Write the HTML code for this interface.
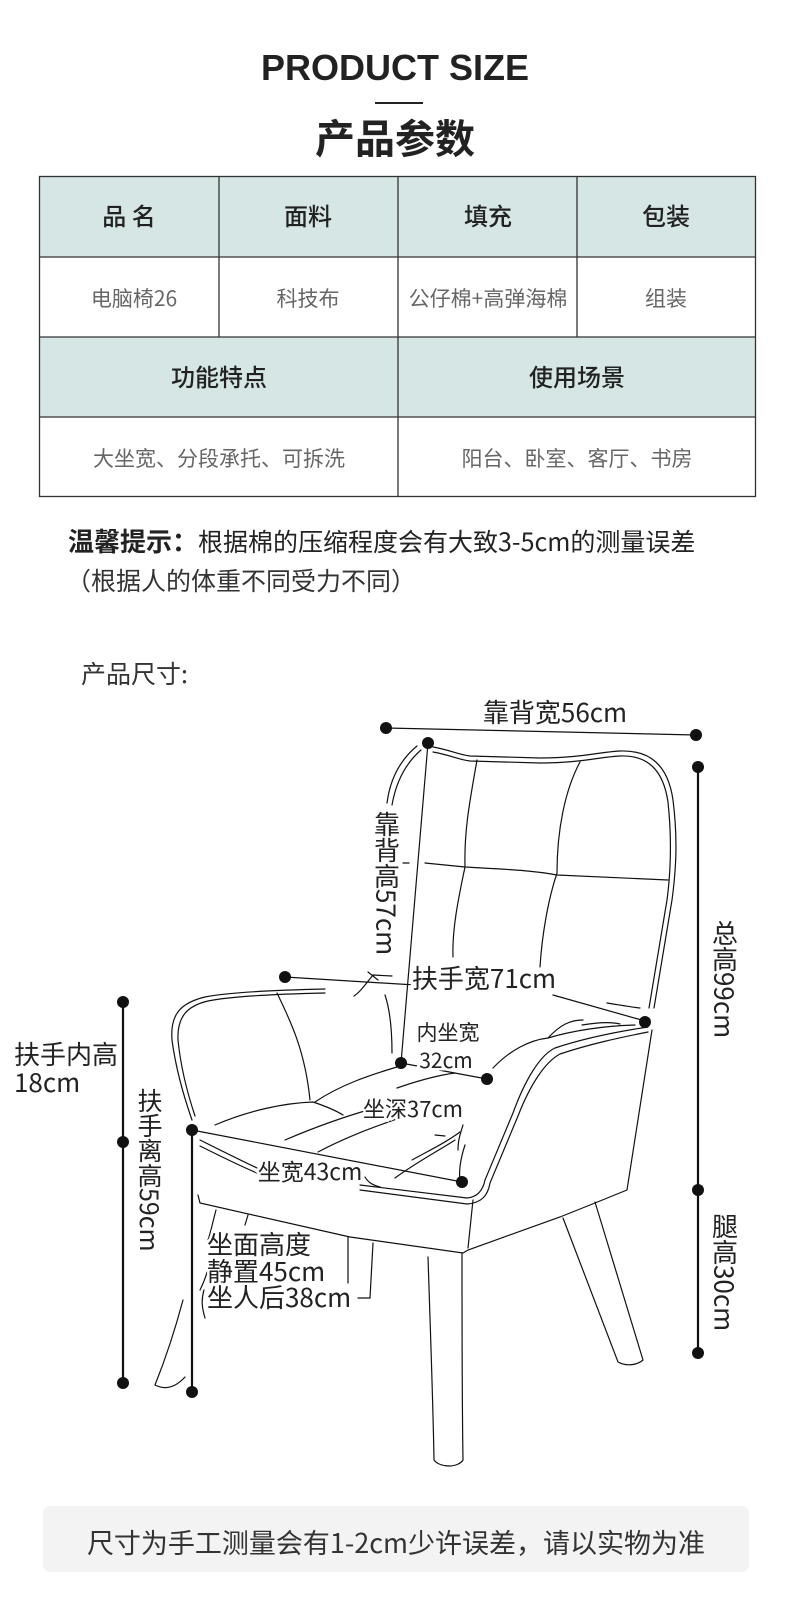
<!DOCTYPE html>
<html><head><meta charset="utf-8"><style>
html,body{margin:0;padding:0;background:#fff;}
body{width:790px;height:1597px;position:relative;overflow:hidden;font-family:"Liberation Sans","Noto Sans CJK SC",sans-serif;}
svg{position:absolute;left:0;top:0;}
</style></head><body>
<svg width="790" height="1597" viewBox="0 0 790 1597" xmlns="http://www.w3.org/2000/svg" font-family="Liberation Sans, Noto Sans CJK SC, sans-serif">
<text x="395" y="80" text-anchor="middle" font-size="36" font-weight="bold" fill="#222">PRODUCT SIZE</text>
<rect x="375" y="102" width="48" height="2" fill="#222"/>
<text x="395" y="153" text-anchor="middle" font-size="40" font-weight="bold" fill="#222" font-family="Noto Sans CJK SC, sans-serif">产品参数</text>
<rect x="39" y="176" width="717" height="81" fill="#d5e6e5"/>
<rect x="39" y="337" width="717" height="80" fill="#d5e6e5"/>
<g stroke="#333" stroke-width="1.3" fill="none">
<rect x="39.5" y="176.5" width="716" height="320"/>
<line x1="39" y1="257" x2="756" y2="257"/>
<line x1="39" y1="337" x2="756" y2="337"/>
<line x1="39" y1="417" x2="756" y2="417"/>
<line x1="219" y1="176" x2="219" y2="337"/>
<line x1="398" y1="176" x2="398" y2="497"/>
<line x1="577" y1="176" x2="577" y2="337"/>
</g>
<g font-size="24" fill="#222" text-anchor="middle" font-family="Noto Sans CJK SC, sans-serif" font-weight="500">
<text x="129" y="225">品 名</text><text x="308" y="225">面料</text><text x="488" y="225">填充</text><text x="666" y="225">包装</text>
<text x="219" y="386">功能特点</text><text x="577" y="386">使用场景</text>
</g>
<g font-size="21" fill="#666" text-anchor="middle" font-family="Noto Sans CJK SC, sans-serif">
<text x="134" y="306">电脑椅26</text><text x="308" y="306">科技布</text><text x="488" y="306">公仔棉+高弹海棉</text><text x="666" y="306">组装</text>
<text x="219" y="466">大坐宽、分段承托、可拆洗</text><text x="577" y="466">阳台、卧室、客厅、书房</text>
</g>
<text x="68" y="551" font-size="26" fill="#222" font-family="Noto Sans CJK SC, sans-serif"><tspan font-weight="bold">温馨提示：</tspan><tspan font-size="25">根据棉的压缩程度会有大致3-5cm的测量误差</tspan></text>
<text x="66" y="590" font-size="25" fill="#333" font-family="Noto Sans CJK SC, sans-serif">（根据人的体重不同受力不同）</text>
<text x="81" y="683" font-size="25" fill="#333" font-family="Noto Sans CJK SC, sans-serif">产品尺寸:</text>

<g stroke="#111" stroke-width="1.2" fill="none" stroke-linecap="round">
<path d="M433 747 C450 750 460 755 470 756 L540 758 C580 758 600 752 620 751 C650 750 668 765 673 800 C678 840 676 870 672 900 L654 1008"/>
<path d="M433 752 C450 755 460 760 470 761 L540 763 C580 763 600 757 620 756 C646 755 663 768 668 802 C672 840 671 870 667 900 L649 1008"/>
<path d="M417 746 C400 760 390 780 387 803"/>
<path d="M421 750 C406 763 396 782 392 805"/>
<path d="M477 760 C470 800 464 830 465 867 C458 900 452 930 453 957"/>
<path d="M580 762 C565 790 557 830 557 873 C548 900 542 935 540 967"/>
<path d="M425 863 L465 867 C500 869 530 870 557 875 L668 880"/>
<line x1="403" y1="863" x2="409" y2="863"/>
<path d="M325 989 C280 990 230 992 205 997 C180 1003 170 1015 172 1040 C176 1070 185 1100 192 1120"/>
<path d="M325 993 C280 994 232 996 208 1001 C186 1006 177 1018 178 1040 C181 1070 189 1098 195 1116"/>
<path d="M277 993 C290 1020 305 1050 310 1100"/>
<path d="M385 995 C390 1010 392 1030 392 1053"/>
<path d="M373 975 C365 985 360 992 354 996"/>
<path d="M368 972 L378 980 M373 975 L392 976"/>
<path d="M315 1102 C340 1085 370 1075 397 1067"/>
<path d="M215 1125 C250 1110 285 1103 313 1102 C325 1106 335 1110 343 1115"/>
<path d="M285 1140 C320 1125 350 1115 375 1108"/>
<path d="M318 1152 C350 1135 380 1125 405 1116"/>
<path d="M397 1088 C420 1080 440 1075 455 1073"/>
<path d="M395 1178 C420 1160 440 1150 455 1140 M435 1135 L445 1136"/>
<path d="M412 1160 C430 1150 445 1143 460 1132"/>
<path d="M465 1145 C460 1160 458 1175 461 1185 M463 1125 C460 1135 458 1140 458 1150"/>
<path d="M200 1140 C220 1150 240 1160 257 1168 M360 1185 L467 1198 C478 1197 483 1190 485 1180 L513 1113 C525 1080 540 1055 555 1048 C585 1038 615 1032 648 1027"/>
<path d="M200 1146 C220 1156 240 1166 257 1173 M360 1190 L467 1204 C482 1203 488 1195 490 1183 L518 1116 C530 1085 545 1062 560 1054 C590 1044 618 1038 648 1032"/>
<path d="M365 1177 C368 1182 372 1185 380 1187"/>
<path d="M493 1068 C510 1050 530 1040 548 1038 C575 1030 605 1026 635 1025"/>
<path d="M548 1038 C560 1025 570 1020 583 1020 M582 1025 C600 1022 612 1022 620 1024"/>
<path d="M607 1003 C620 1005 630 1007 640 1008"/>
<path d="M652 1030 L627 1190 L595 1203 L560 1217 L468 1250 L463 1253 L350 1237 L200 1203 L198 1195"/>
<path d="M473 1200 L468 1248"/>
<path d="M428 1257 C430 1320 433 1400 434 1460 C440 1468 458 1468 463 1460 C462 1400 462 1320 462 1253"/>
<path d="M595 1202 L643 1360 C636 1366 625 1366 618 1362 L563 1218"/>
<path d="M348 1237 L348 1283 M373 1243 L370 1298 L358 1298"/>
<path d="M183 1300 C175 1330 165 1360 155 1385 C165 1390 175 1388 185 1377"/>
<path d="M216 1210 C212 1225 210 1235 208 1240 M248 1215 L245 1225 M200 1290 C205 1280 208 1270 210 1262 M205 1318 C202 1308 201 1300 204 1290"/>
<line x1="386" y1="728" x2="696" y2="735"/>
<line x1="428" y1="743" x2="401" y2="1063"/>
<line x1="285" y1="977" x2="415" y2="985"/>
<line x1="553" y1="995" x2="645" y2="1021"/>
<line x1="401" y1="1063" x2="487" y2="1079"/>
<line x1="192" y1="1130" x2="462" y2="1182"/>
</g>
<g stroke="#111" stroke-width="2.2">
<line x1="698" y1="767" x2="698" y2="1353"/>
<line x1="123" y1="1002" x2="123" y2="1383"/>
<line x1="192" y1="1128" x2="192" y2="1392"/>
</g>
<g fill="#111">
<circle cx="386" cy="728" r="6"/><circle cx="696" cy="735" r="6"/>
<circle cx="428" cy="743" r="6"/><circle cx="698" cy="767" r="6"/>
<circle cx="698" cy="1190" r="6"/><circle cx="698" cy="1353" r="6"/>
<circle cx="285" cy="977" r="6"/><circle cx="645" cy="1022" r="6"/>
<circle cx="401" cy="1063" r="6"/><circle cx="487" cy="1079" r="6"/>
<circle cx="192" cy="1130" r="6"/><circle cx="462" cy="1182" r="6"/>
<circle cx="123" cy="1002" r="6"/><circle cx="123" cy="1142" r="6"/><circle cx="123" cy="1383" r="6"/>
<circle cx="192" cy="1392" r="6"/>
</g>
<g fill="#222" font-family="Noto Sans CJK SC, sans-serif">
<text x="555" y="722" text-anchor="middle" font-size="26">靠背宽56cm</text>
<text x="484" y="988" text-anchor="middle" font-size="26" stroke="#fff" stroke-width="6" paint-order="stroke">扶手宽71cm</text>
<text x="448" y="1040" text-anchor="middle" font-size="21" stroke="#fff" stroke-width="5" paint-order="stroke">内坐宽</text>
<text x="446" y="1068" text-anchor="middle" font-size="21" stroke="#fff" stroke-width="5" paint-order="stroke">32cm</text>
<text x="413" y="1117" text-anchor="middle" font-size="22" stroke="#fff" stroke-width="5" paint-order="stroke">坐深37cm</text>
<text x="310" y="1180" text-anchor="middle" font-size="23" stroke="#fff" stroke-width="5" paint-order="stroke">坐宽43cm</text>
<text x="207" y="1254" font-size="26" stroke="#fff" stroke-width="5" paint-order="stroke">坐面高度</text>
<text x="207" y="1281" font-size="26" stroke="#fff" stroke-width="5" paint-order="stroke">静置45cm</text>
<text x="207" y="1307" font-size="26" stroke="#fff" stroke-width="5" paint-order="stroke">坐人后38cm</text>
<text x="14" y="1064" font-size="26">扶手内高</text>
<text x="14" y="1092" font-size="26">18cm</text>
<text x="387" y="811" font-size="26" writing-mode="tb" text-anchor="start" stroke="#fff" stroke-width="5" paint-order="stroke">靠背高57cm</text>
<text x="150" y="1088" font-size="25" writing-mode="tb" text-anchor="start">扶手离高59cm</text>
<text x="725" y="920" font-size="26" writing-mode="tb" text-anchor="start">总高99cm</text>
<text x="725" y="1213" font-size="26" writing-mode="tb" text-anchor="start">腿高30cm</text>
</g>
<rect x="43" y="1506" width="706" height="66" rx="7" fill="#f3f3f3"/>
<text x="396" y="1553" text-anchor="middle" font-size="27" fill="#333" font-family="Noto Sans CJK SC, sans-serif">尺寸为手工测量会有1-2cm少许误差，请以实物为准</text>
</svg>
</body></html>
